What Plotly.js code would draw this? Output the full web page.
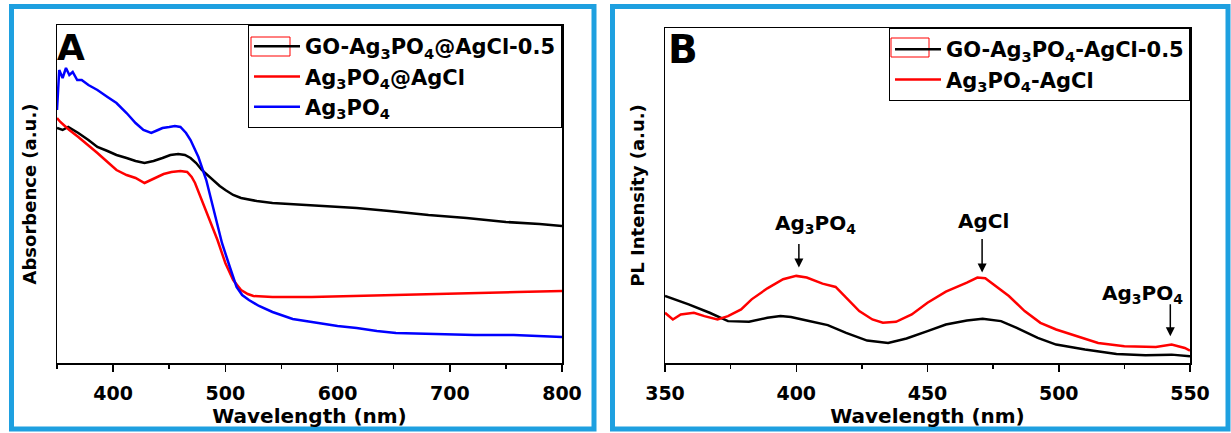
<!DOCTYPE html>
<html><head><meta charset="utf-8">
<script src="https://cdn.plot.ly/plotly-3.0.1.min.js"></script>
<style>html,body{margin:0;padding:0;background:#fff}#chart{width:1231px;height:433px}</style>
</head><body><div id="chart"></div>
<script>
// Panel A: UV-vis absorbance (arbitrary units)
const absBlueX = [350,352,355,358,361,364,368,372,378,386,395,403,412,420,427,434,440,444,450,455,460,465,469,476,483,490,497,504,510,515,521,530,542,560,577,600,617,635,652,687,722,757,780,800];
const absBlueY = [2.53,2.93,2.85,2.95,2.88,2.91,2.83,2.83,2.78,2.73,2.66,2.60,2.50,2.40,2.33,2.30,2.33,2.35,2.36,2.37,2.36,2.30,2.23,2.06,1.83,1.50,1.20,0.96,0.76,0.68,0.63,0.57,0.51,0.44,0.41,0.37,0.35,0.32,0.30,0.29,0.28,0.28,0.27,0.26];
const absRedX = [350,353,357,361,369,378,386,395,403,412,420,428,434,438,445,452,460,466,470,473,479,486,493,500,507,514,520,525,542,577,610,646,680,715,760,800];
const absRedY = [2.45,2.41,2.37,2.33,2.26,2.18,2.10,2.01,1.93,1.88,1.85,1.80,1.83,1.85,1.89,1.91,1.92,1.91,1.86,1.80,1.63,1.43,1.23,1.00,0.83,0.73,0.69,0.67,0.66,0.66,0.67,0.68,0.69,0.70,0.71,0.72];
const absBlackX = [350,355,360,369,378,386,395,403,412,420,428,436,444,451,458,464,469,474,479,485,490,495,500,507,514,528,542,577,617,646,681,715,750,780,800];
const absBlackY = [2.35,2.33,2.36,2.30,2.23,2.16,2.12,2.08,2.05,2.02,2.00,2.02,2.05,2.08,2.09,2.08,2.05,2.00,1.93,1.87,1.81,1.77,1.73,1.68,1.65,1.62,1.60,1.58,1.55,1.52,1.48,1.45,1.41,1.39,1.37];
// Panel B: PL intensity (arbitrary units)
const plBlackX = [350,359,367,374,382,389,394,398,404,412,419,427,435,442,450,457,465,471,478,484,492,499,510,522,533,543,550];
const plBlackY = [2.00,1.75,1.50,1.25,1.23,1.35,1.40,1.37,1.27,1.13,0.90,0.67,0.60,0.73,0.95,1.15,1.27,1.32,1.25,1.05,0.75,0.55,0.40,0.27,0.23,0.25,0.20];
const plRedX = [350,353,356,361,365,370,374,379,383,389,395,400,404,410,415,419,424,429,433,438,444,450,457,465,469,472,477,481,487,493,499,507,515,525,537,543,548,550];
const plRedY = [1.50,1.30,1.45,1.50,1.40,1.30,1.40,1.60,1.90,2.23,2.50,2.60,2.55,2.37,2.27,1.95,1.55,1.30,1.20,1.23,1.45,1.80,2.13,2.40,2.55,2.53,2.25,2.00,1.55,1.20,1.00,0.80,0.60,0.50,0.48,0.55,0.45,0.37];
// Labels
const namesA = ['GO-Ag<sub>3</sub>PO<sub>4</sub>@AgCl-0.5','Ag<sub>3</sub>PO<sub>4</sub>@AgCl','Ag<sub>3</sub>PO<sub>4</sub>'];
const namesB = ['GO-Ag<sub>3</sub>PO<sub>4</sub>-AgCl-0.5','Ag<sub>3</sub>PO<sub>4</sub>-AgCl'];
const peakLabels = ['Ag<sub>3</sub>PO<sub>4</sub>','AgCl','Ag<sub>3</sub>PO<sub>4</sub>'];
const peakTextX = [407.4, 471.5, 531.9];
const peakTextY = [4.15, 4.25, 2.05];
const arrowX = [401, 470.8, 542.5];
const arrowTailY = [3.6, 3.75, 1.8];
const arrowTipY = [2.85, 2.70, 0.80];

const F = 'DejaVu Sans';
const bold = (s, c) => ({family: F, size: s, color: c || '#000', weight: 'bold'});

const traces = [
  {x: absBlackX, y: absBlackY, name: namesA[0], mode: 'lines', line: {color: '#000000', width: 2.5}, xaxis: 'x', yaxis: 'y', legend: 'legend'},
  {x: absRedX, y: absRedY, name: namesA[1], mode: 'lines', line: {color: '#ff0000', width: 2.5}, xaxis: 'x', yaxis: 'y', legend: 'legend'},
  {x: absBlueX, y: absBlueY, name: namesA[2], mode: 'lines', line: {color: '#0000ff', width: 2.5}, xaxis: 'x', yaxis: 'y', legend: 'legend'},
  {x: plBlackX, y: plBlackY, name: namesB[0], mode: 'lines', line: {color: '#000000', width: 2.5}, xaxis: 'x2', yaxis: 'y2', legend: 'legend2'},
  {x: plRedX, y: plRedY, name: namesB[1], mode: 'lines', line: {color: '#ff0000', width: 2.5}, xaxis: 'x2', yaxis: 'y2', legend: 'legend2'}
];

const W = 1231, H = 433, ML = 57, MR = 41, MT = 25, MB = 70;
const pw = W - ML - MR, ph = H - MT - MB;
const px = v => (v - ML) / pw;
const py = v => (H - MB - v) / ph;

const xCommon = {
  showline: true, mirror: true, linecolor: '#000', linewidth: 1.5,
  ticks: 'outside', ticklen: 7, tickwidth: 1.5, tickcolor: '#000',
  showgrid: false, zeroline: false, tickfont: bold(19), ticklabelstandoff: 6
};
const yCommon = {
  showline: true, mirror: true, linecolor: '#000', linewidth: 1.5,
  ticks: '', showticklabels: false, showgrid: false, zeroline: false
};

const annotations = [
  {xref: 'x', yref: 'y', x: 362.5, y: 3.16, text: 'A', showarrow: false, font: bold(36)},
  {xref: 'x2', yref: 'y2', x: 356.9, y: 9.35, text: 'B', showarrow: false, font: bold(39)}
];
for (let i = 0; i < peakLabels.length; i++) {
  annotations.push({xref: 'x2', yref: 'y2', x: peakTextX[i], y: peakTextY[i], text: peakLabels[i], showarrow: false, font: bold(20)});
  annotations.push({xref: 'x2', yref: 'y2', x: arrowX[i], y: arrowTipY[i], ax: arrowX[i], ay: arrowTailY[i], axref: 'x2', ayref: 'y2', text: '', showarrow: true, arrowhead: 2, arrowsize: 1.2, arrowwidth: 1.5, arrowcolor: '#000'});
}

const borderColor = '#1ea0e0';
const shapes = [
  {type: 'rect', xref: 'paper', yref: 'paper', x0: px(11.5), x1: px(594), y0: py(429), y1: py(6.5), line: {color: borderColor, width: 5}},
  {type: 'rect', xref: 'paper', yref: 'paper', x0: px(612.5), x1: px(1228), y0: py(429), y1: py(6.5), line: {color: borderColor, width: 5}},
  {type: 'rect', layer: 'above', xref: 'paper', yref: 'paper', x0: px(251), x1: px(290), y0: py(56), y1: py(37), line: {color: '#ff0000', width: 1}},
  {type: 'rect', layer: 'above', xref: 'paper', yref: 'paper', x0: px(891), x1: px(929), y0: py(57), y1: py(38), line: {color: '#ff0000', width: 1}}
];

const layout = {
  width: W, height: H,
  margin: {l: ML, r: MR, t: MT, b: MB},
  paper_bgcolor: '#fff', plot_bgcolor: '#fff',
  showlegend: true,
  xaxis: Object.assign({}, xCommon, {domain: [0, px(562)], range: [350, 800], tick0: 400, dtick: 100,
    minor: {ticks: 'outside', ticklen: 4, tickwidth: 1.5, tick0: 350, dtick: 50, tickcolor: '#000'},
    title: {text: 'Wavelength (nm)', font: bold(20), standoff: 4}, anchor: 'y'}),
  yaxis: Object.assign({}, yCommon, {domain: [0, 1], range: [0, 3.38], anchor: 'x',
    title: {text: 'Absorbence (a.u.)', font: bold(18), standoff: 14}}),
  xaxis2: Object.assign({}, xCommon, {domain: [px(665), 1], range: [350, 550], tick0: 350, dtick: 50,
    minor: {ticks: 'outside', ticklen: 4, tickwidth: 1.5, tick0: 350, dtick: 25, tickcolor: '#000'},
    title: {text: 'Wavelength (nm)', font: bold(20), standoff: 4}, anchor: 'y2'}),
  yaxis2: Object.assign({}, yCommon, {domain: [0, py(28)], range: [0, 10], anchor: 'x2',
    title: {text: 'PL Intensity (a.u.)', font: bold(18), standoff: 14}}),
  legend: {x: px(562), xanchor: 'right', y: 1, yanchor: 'top', bordercolor: '#000', borderwidth: 1, bgcolor: 'rgba(255,255,255,0)',
    font: bold(21), itemwidth: 46},
  legend2: {x: 1, xanchor: 'right', y: py(28), yanchor: 'top', bordercolor: '#000', borderwidth: 1, bgcolor: 'rgba(255,255,255,0)',
    font: bold(21), itemwidth: 46},
  annotations: annotations,
  shapes: shapes
};

Plotly.newPlot('chart', traces, layout, {displayModeBar: false, staticPlot: true});
</script>
</body></html>
